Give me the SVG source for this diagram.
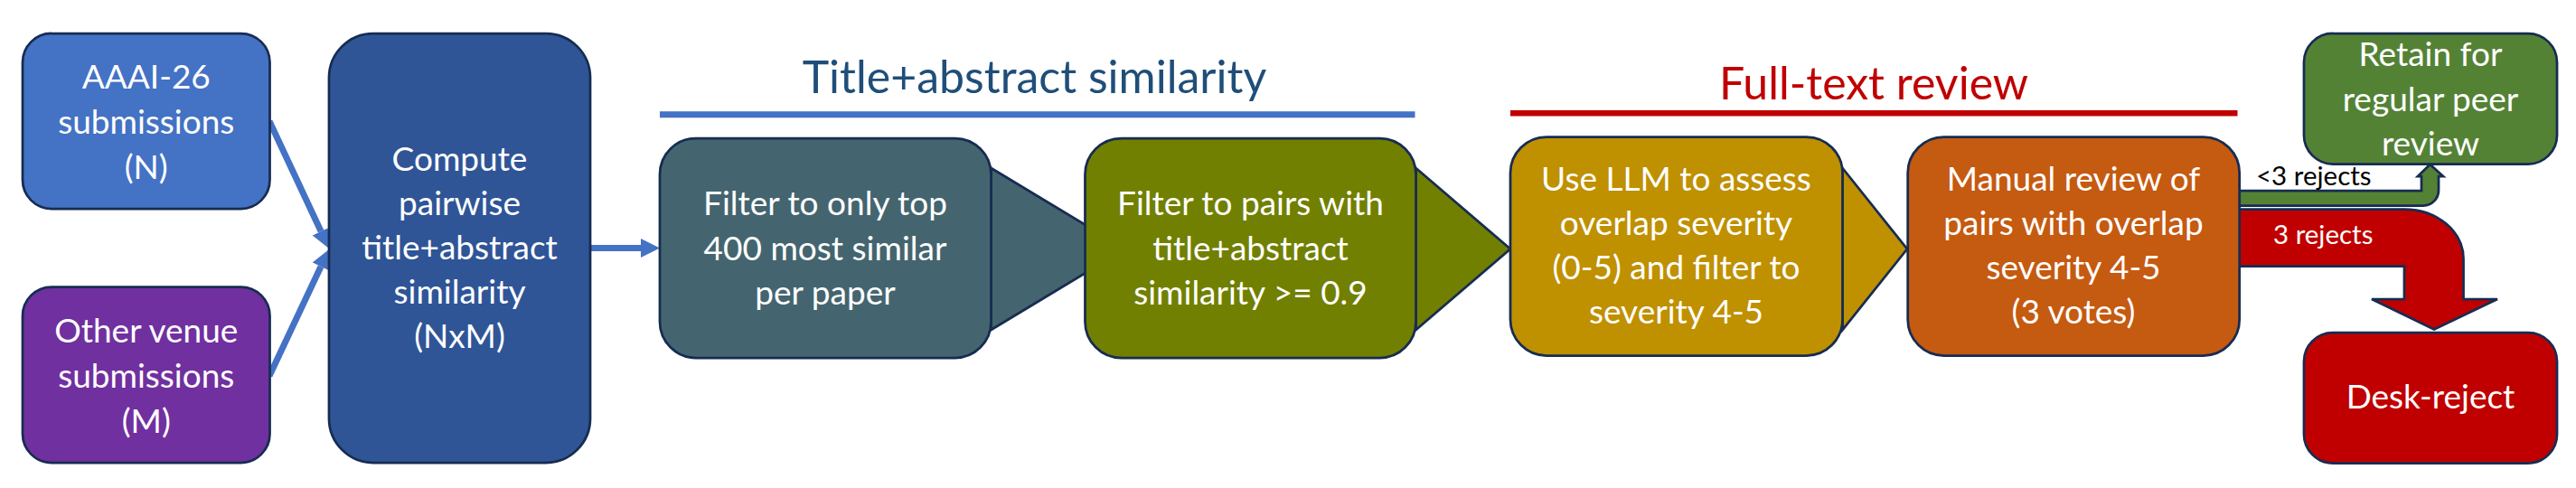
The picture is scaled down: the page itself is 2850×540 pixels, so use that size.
<svg xmlns="http://www.w3.org/2000/svg" width="2850" height="540" viewBox="0 0 2850 540">
<style>
.n{stroke:#172C51;stroke-width:2.75}
.t{font-family:Lato,"Liberation Sans",sans-serif;font-size:37px;fill:#fff;text-anchor:middle}
.h{font-family:Lato,"Liberation Sans",sans-serif;font-size:50px;text-anchor:middle}
.lbl{font-family:Lato,"Liberation Sans",sans-serif;font-size:29.5px}
.ln{stroke:#4472C4;stroke-width:7;fill:none}
</style>
<defs>
<marker id="ah" markerUnits="userSpaceOnUse" viewBox="0 0 10 10" markerWidth="21" markerHeight="21" refX="0" refY="5" orient="auto">
<path d="M0,0 L10,5 L0,10 z" fill="#4472C4"/>
</marker>
</defs>
<rect width="2850" height="540" fill="#fff"/>
<g id="headers">
<text class="h" x="1144.5" y="102.6" fill="#1F4E79">Title+abstract similarity</text>
<line x1="730" y1="126.7" x2="1565.5" y2="126.7" stroke="#4472C4" stroke-width="7"/>
<text class="h" x="2073" y="109.5" fill="#C00000">Full-text review</text>
<line x1="1671" y1="125.2" x2="2475.5" y2="125.2" stroke="#C00000" stroke-width="6.5"/>
</g>
<g id="connectors">
<line class="ln" x1="298" y1="134" x2="355.1" y2="256" marker-end="url(#ah)"/>
<line class="ln" x1="298" y1="416" x2="355" y2="295" marker-end="url(#ah)"/>
<line class="ln" x1="653" y1="274.5" x2="709" y2="274.5" marker-end="url(#ah)"/>
<path class="n" fill="#548235" d="M2470,211 H2679 V195 H2675 L2688.5,182 L2703,195 H2698 V210.5 A17,17 0 0 1 2681,227.5 H2470 Z"/>
<path class="n" fill="#C00000" d="M2470,231.5 H2660 A65.5,55 0 0 1 2725.5,286.5 V331 H2763 L2693,364.5 L2624,331 H2660 V294.5 H2470 Z"/>
<text class="lbl" x="2496" y="205" fill="#000">&lt;3 rejects</text>
<text class="lbl" x="2515" y="270" fill="#fff">3 rejects</text>
</g>
<g id="aaai">
<rect class="n" x="25" y="37" width="273.5" height="194" rx="32" fill="#4472C4"/>
<text class="t" x="161.75" y="98">AAAI-26</text>
<text class="t" x="161.75" y="148">submissions</text>
<text class="t" x="161.75" y="198">(N)</text>
</g>
<g id="other">
<rect class="n" x="25" y="317.5" width="273.5" height="194.5" rx="32" fill="#7030A0"/>
<text class="t" x="161.75" y="378.8">Other venue</text>
<text class="t" x="161.75" y="428.7">submissions</text>
<text class="t" x="161.75" y="478.6">(M)</text>
</g>
<g id="compute">
<rect class="n" x="364" y="37" width="289" height="475" rx="49" fill="#2F5597"/>
<text class="t" x="508.5" y="188.5">Compute</text>
<text class="t" x="508.5" y="237.7">pairwise</text>
<text class="t" x="508.5" y="286.9">title+abstract</text>
<text class="t" x="508.5" y="336.1">similarity</text>
<text class="t" x="508.5" y="385.3">(NxM)</text>
</g>
<g id="filter1">
<path class="n" fill="#44656F" d="M1096.5,186 L1245,275.5 L1096.5,365 Z"/>
<rect class="n" x="730" y="153" width="366.5" height="243" rx="40" fill="#44656F"/>
<text class="t" x="913" y="237.6">Filter to only top</text>
<text class="t" x="913" y="287.5">400 most similar</text>
<text class="t" x="913" y="337.4">per paper</text>
</g>
<g id="filter2">
<path class="n" fill="#718000" d="M1566.5,186 L1671,275.5 L1566.5,365 Z"/>
<rect class="n" x="1200.5" y="153" width="366" height="243" rx="40" fill="#718000"/>
<text class="t" x="1383.5" y="237.6">Filter to pairs with</text>
<text class="t" x="1383.5" y="287.5">title+abstract</text>
<text class="t" x="1383.5" y="337.4">similarity &gt;= 0.9</text>
</g>
<g id="llm">
<path class="n" fill="#BF9000" d="M2038.5,186 L2110,275.5 L2038.5,365 Z"/>
<rect class="n" x="1671" y="151.5" width="367.5" height="242" rx="40" fill="#BF9000"/>
<text class="t" x="1854.5" y="210.7">Use LLM to assess</text>
<text class="t" x="1854.5" y="259.8">overlap severity</text>
<text class="t" x="1854.5" y="308.9">(0-5) and filter to</text>
<text class="t" x="1854.5" y="358">severity 4-5</text>
</g>
<g id="manual">
<rect class="n" x="2110.7" y="151.5" width="367" height="242" rx="40" fill="#C55A11"/>
<text class="t" x="2294" y="210.7">Manual review of</text>
<text class="t" x="2294" y="259.8">pairs with overlap</text>
<text class="t" x="2294" y="308.9">severity 4-5</text>
<text class="t" x="2294" y="358">(3 votes)</text>
</g>
<g id="retain">
<rect class="n" x="2549" y="37" width="280" height="144.5" rx="32" fill="#548235"/>
<text class="t" x="2689" y="73.3">Retain for</text>
<text class="t" x="2689" y="122.8">regular peer</text>
<text class="t" x="2689" y="172.2">review</text>
</g>
<g id="desk">
<rect class="n" x="2549" y="368" width="280" height="144.5" rx="32" fill="#C00000"/>
<text class="t" x="2689" y="451.8">Desk-reject</text>
</g>
</svg>
